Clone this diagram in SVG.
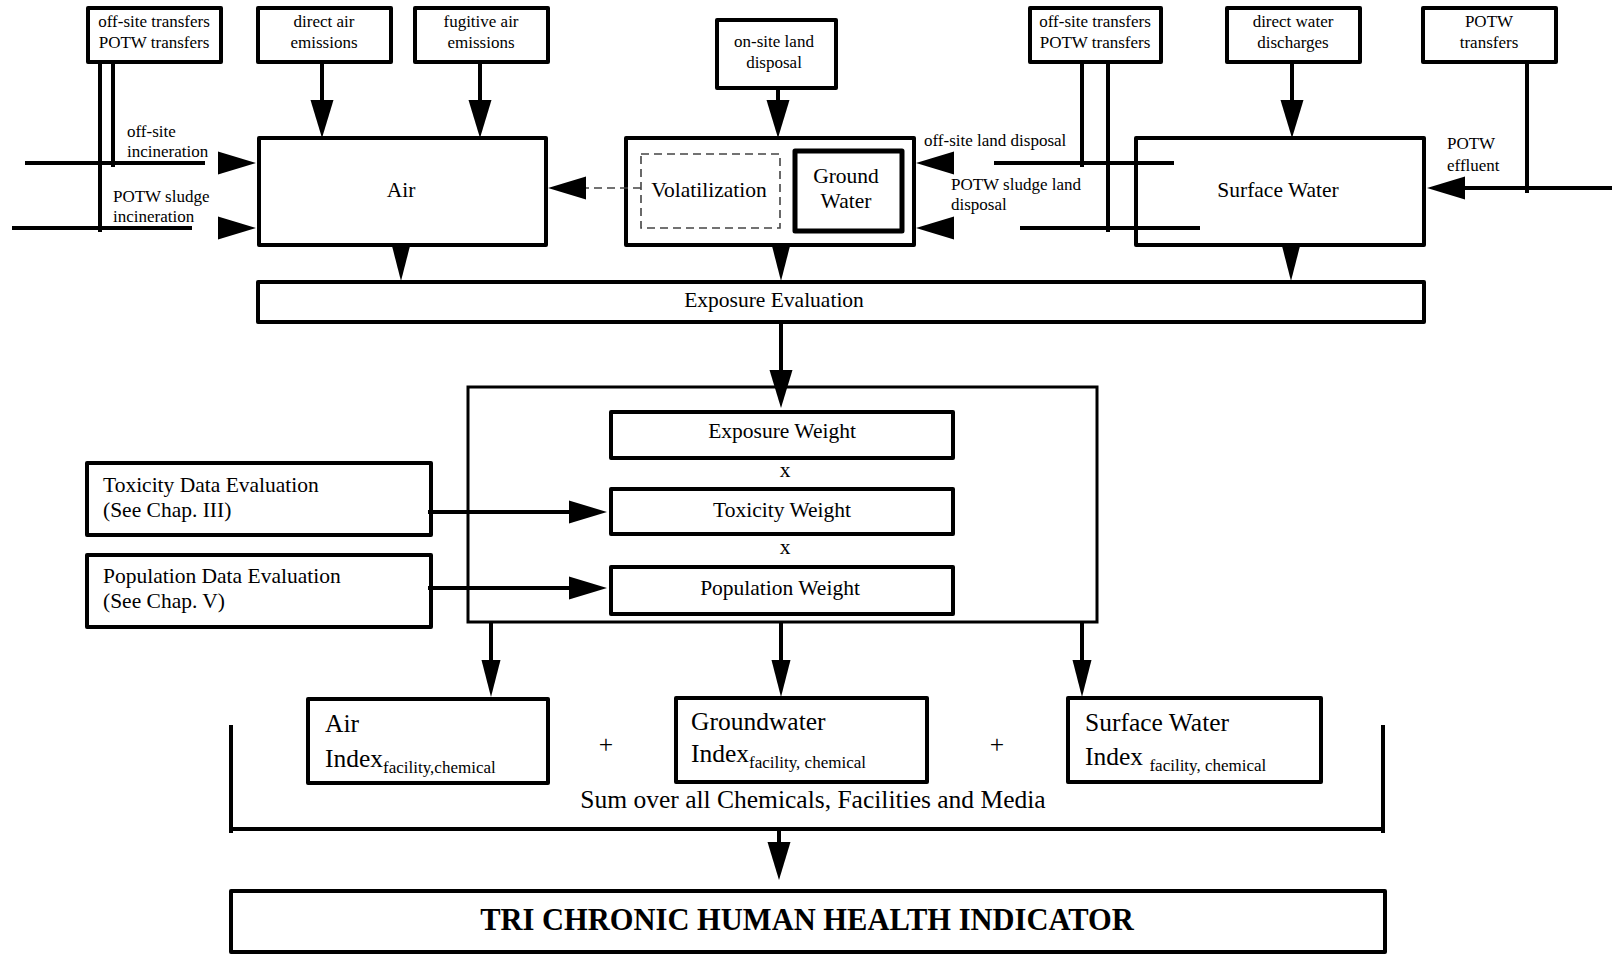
<svg xmlns="http://www.w3.org/2000/svg" xmlns:xlink="http://www.w3.org/1999/xlink" width="1612" height="954" viewBox="0 0 1612 954">
<style>
  text { font-family: "Liberation Serif", "Times New Roman", serif; fill: #000; }
  .s { font-size: 17px; }
  .m { font-size: 21.5px; }
  .l { font-size: 25.5px; }
  .sub { font-size: 17px; }
  .c { text-anchor: middle; }
  .box { fill: #fff; stroke: #000; stroke-width: 4; stroke-linejoin: round; }
  .thin { fill: none; stroke: #000; stroke-width: 3; }
  .ln { fill: none; stroke: #000; stroke-width: 4; }
  .dash { fill: none; stroke: #444; stroke-width: 1.6; stroke-dasharray: 8 5; }
</style>
<defs>
  <path id="tri" d="M0,-11.5L38,0L0,11.5z"/>
  <path id="trin" d="M0,-9.5L37,0L0,9.5z"/>
</defs>
<rect width="1612" height="954" fill="#fff"/>

<g id="n-offsite-left">
  <rect class="box" x="88" y="8" width="133" height="54"/>
  <text class="s c" x="154" y="27">off-site transfers</text>
  <text class="s c" x="154" y="48">POTW transfers</text>
</g>
<g id="n-direct-air">
  <rect class="box" x="258" y="8" width="133" height="54"/>
  <text class="s c" x="324" y="27">direct air</text>
  <text class="s c" x="324" y="48">emissions</text>
</g>
<g id="n-fugitive-air">
  <rect class="box" x="415" y="8" width="133" height="54"/>
  <text class="s c" x="481" y="27">fugitive air</text>
  <text class="s c" x="481" y="48">emissions</text>
</g>
<g id="n-onsite-land">
  <rect class="box" x="717" y="20" width="119" height="68"/>
  <text class="s c" x="774" y="47">on-site land</text>
  <text class="s c" x="774" y="68">disposal</text>
</g>
<g id="n-offsite-right">
  <rect class="box" x="1030" y="8" width="131" height="54"/>
  <text class="s c" x="1095" y="27">off-site transfers</text>
  <text class="s c" x="1095" y="48">POTW transfers</text>
</g>
<g id="n-direct-water">
  <rect class="box" x="1227" y="8" width="133" height="54"/>
  <text class="s c" x="1293" y="27">direct water</text>
  <text class="s c" x="1293" y="48">discharges</text>
</g>
<g id="n-potw-transfers">
  <rect class="box" x="1423" y="8" width="133" height="54"/>
  <text class="s c" x="1489" y="27">POTW</text>
  <text class="s c" x="1489" y="48">transfers</text>
</g>

<g id="labels-left">
  <text class="s" x="127" y="137">off-site</text>
  <text class="s" x="127" y="157">incineration</text>
  <text class="s" x="113" y="202">POTW sludge</text>
  <text class="s" x="113" y="222">incineration</text>
</g>
<g id="labels-right">
  <text class="s" x="924" y="146">off-site land disposal</text>
  <text class="s" x="951" y="190">POTW sludge land</text>
  <text class="s" x="951" y="210">disposal</text>
  <text class="s" x="1447" y="149">POTW</text>
  <text class="s" x="1447" y="171">effluent</text>
</g>

<g id="n-air">
  <rect class="box" x="259" y="138" width="287" height="107"/>
  <text class="m c" x="401" y="197">Air</text>
</g>
<g id="n-groundwater">
  <rect class="box" x="626" y="138" width="288" height="107"/>
  <rect class="dash" x="641" y="154" width="139" height="74"/>
  <text class="m c" x="709" y="197">Volatilization</text>
  <rect class="box" x="795" y="151" width="107" height="80" style="stroke-width:5"/>
  <text class="m c" x="846" y="183">Ground</text>
  <text class="m c" x="846" y="208">Water</text>
</g>
<g id="n-surface-water">
  <rect class="box" x="1136" y="138" width="288" height="107"/>
  <text class="m c" x="1278" y="197">Surface Water</text>
</g>

<g id="n-exposure-eval">
  <rect class="box" x="258" y="282" width="1166" height="40"/>
  <text class="m c" x="774" y="307">Exposure Evaluation</text>
</g>

<g id="n-weights">
  <rect class="thin" x="468" y="387" width="629" height="235"/>
</g>
<g id="n-exposure-weight">
  <rect class="box" x="611" y="412" width="342" height="46"/>
  <text class="m c" x="782" y="438">Exposure Weight</text>
</g>
<text class="m c" x="785" y="477">x</text>
<g id="n-toxicity-weight">
  <rect class="box" x="611" y="489" width="342" height="45"/>
  <text class="m c" x="782" y="517">Toxicity Weight</text>
</g>
<text class="m c" x="785" y="554">x</text>
<g id="n-population-weight">
  <rect class="box" x="611" y="567" width="342" height="47"/>
  <text class="m c" x="780" y="595">Population Weight</text>
</g>

<g id="n-toxicity-data">
  <rect class="box" x="87" y="463" width="344" height="72"/>
  <text class="m" x="103" y="492">Toxicity Data Evaluation</text>
  <text class="m" x="103" y="517">(See Chap. III)</text>
</g>
<g id="n-population-data">
  <rect class="box" x="87" y="555" width="344" height="72"/>
  <text class="m" x="103" y="583">Population Data Evaluation</text>
  <text class="m" x="103" y="608">(See Chap. V)</text>
</g>

<g id="n-air-index">
  <rect class="box" x="308" y="699" width="240" height="84"/>
  <text class="l" x="325" y="732">Air</text>
  <text class="l" x="325" y="767">Index<tspan class="sub" dy="6">facility,chemical</tspan></text>
</g>
<text class="l c" x="606" y="753">+</text>
<g id="n-groundwater-index">
  <rect class="box" x="676" y="698" width="251" height="84"/>
  <text class="l" x="691" y="730">Groundwater</text>
  <text class="l" x="691" y="762">Index<tspan class="sub" dy="6">facility, chemical</tspan></text>
</g>
<text class="l c" x="997" y="753">+</text>
<g id="n-surface-index">
  <rect class="box" x="1068" y="698" width="253" height="84"/>
  <text class="l" x="1085" y="731">Surface Water</text>
  <text class="l" x="1085" y="765">Index <tspan class="sub" dy="6">facility, chemical</tspan></text>
</g>

<text class="l c" x="813" y="808">Sum over all Chemicals, Facilities and Media</text>

<g id="n-tri-indicator">
  <rect class="box" x="231" y="891" width="1154" height="61"/>
  <text class="c" x="807" y="930" style="font-size:30.5px;font-weight:bold">TRI CHRONIC HUMAN HEALTH INDICATOR</text>
</g>

<g id="connectors">
  <!-- left transfer lines -->
  <line class="ln" x1="100" y1="62" x2="100" y2="232"/>
  <line class="ln" x1="113" y1="62" x2="113" y2="167"/>
  <line class="ln" x1="25" y1="163" x2="205" y2="163"/>
  <line class="ln" x1="12" y1="228" x2="192" y2="228"/>
  <use href="#tri" transform="translate(218,163)"/>
  <use href="#tri" transform="translate(218,228)"/>
  <!-- top arrows -->
  <line class="ln" x1="322" y1="62" x2="322" y2="101"/>
  <use href="#tri" transform="translate(322,100) rotate(90)"/>
  <line class="ln" x1="480" y1="62" x2="480" y2="101"/>
  <use href="#tri" transform="translate(480,100) rotate(90)"/>
  <line class="ln" x1="778" y1="88" x2="778" y2="101"/>
  <use href="#tri" transform="translate(778,100) rotate(90)"/>
  <line class="ln" x1="1292" y1="62" x2="1292" y2="101"/>
  <use href="#tri" transform="translate(1292,100) rotate(90)"/>
  <!-- right transfer lines -->
  <line class="ln" x1="1082" y1="62" x2="1082" y2="167"/>
  <line class="ln" x1="1108" y1="62" x2="1108" y2="232"/>
  <line class="ln" x1="994" y1="163" x2="1174" y2="163"/>
  <line class="ln" x1="1020" y1="228" x2="1200" y2="228"/>
  <use href="#tri" transform="translate(954,163) rotate(180)"/>
  <use href="#tri" transform="translate(954,228) rotate(180)"/>
  <!-- POTW effluent -->
  <line class="ln" x1="1527" y1="62" x2="1527" y2="193"/>
  <line class="ln" x1="1612" y1="188" x2="1464" y2="188"/>
  <use href="#tri" transform="translate(1465,188) rotate(180)"/>
  <!-- volatilization -->
  <line class="dash" x1="641" y1="188" x2="586" y2="188"/>
  <use href="#tri" transform="translate(586,188) rotate(180)"/>
  <!-- media to exposure evaluation -->
  <use href="#trin" transform="translate(401,244) rotate(90)"/>
  <use href="#trin" transform="translate(781,244) rotate(90)"/>
  <use href="#trin" transform="translate(1291,244) rotate(90)"/>
  <!-- exposure evaluation to weights -->
  <line class="ln" x1="781" y1="322" x2="781" y2="371"/>
  <use href="#tri" transform="translate(781,370) rotate(90)"/>
  <!-- data evaluation arrows -->
  <line class="ln" x1="428" y1="512" x2="570" y2="512"/>
  <use href="#tri" transform="translate(569,512)"/>
  <line class="ln" x1="428" y1="588" x2="570" y2="588"/>
  <use href="#tri" transform="translate(569,588)"/>
  <!-- to indices -->
  <line class="ln" x1="491" y1="622" x2="491" y2="661"/>
  <use href="#trin" transform="translate(491,660) rotate(90)"/>
  <line class="ln" x1="781" y1="622" x2="781" y2="661"/>
  <use href="#trin" transform="translate(781,660) rotate(90)"/>
  <line class="ln" x1="1082" y1="622" x2="1082" y2="661"/>
  <use href="#trin" transform="translate(1082,660) rotate(90)"/>
  <!-- sum bracket and arrow -->
  <line class="ln" x1="231" y1="725" x2="231" y2="833"/>
  <line class="ln" x1="1383" y1="725" x2="1383" y2="833"/>
  <line class="ln" x1="229" y1="829" x2="1385" y2="829"/>
  <line class="ln" x1="779" y1="829" x2="779" y2="843"/>
  <use href="#tri" transform="translate(779,842) rotate(90)"/>
</g>
</svg>
